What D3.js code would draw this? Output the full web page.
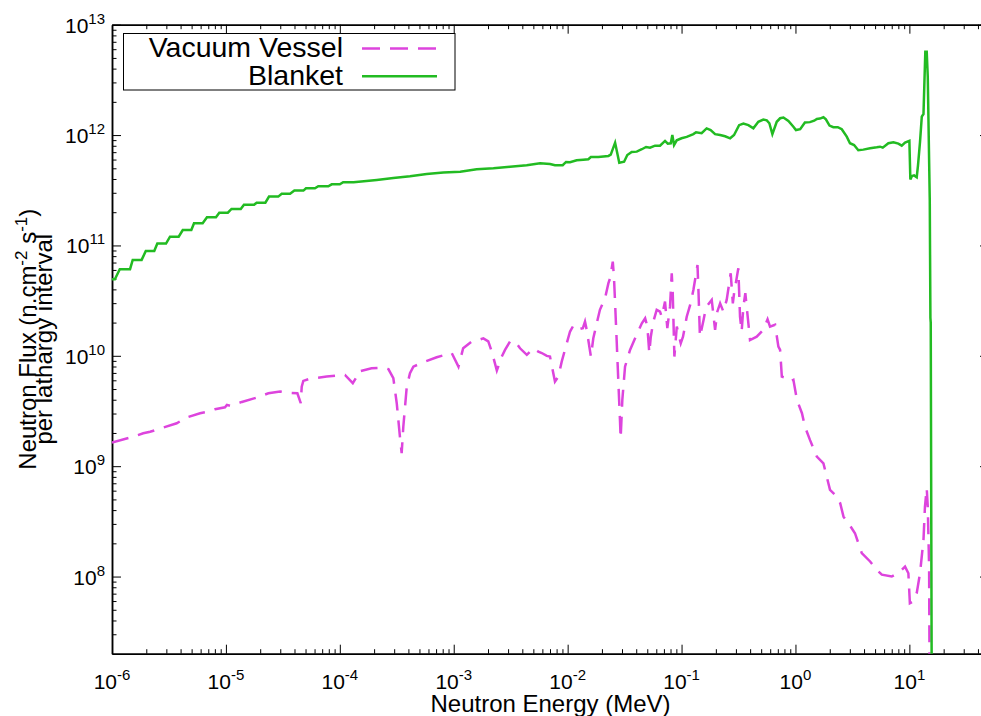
<!DOCTYPE html>
<meta charset="utf-8">
<style>
body { margin: 0; background: white; }
text { font-family: "Liberation Sans", Arial, sans-serif; fill: black; }
.axis path, .axis line { stroke: black; }
.axis path { stroke-width: 1.5; }
</style>
<script src="https://d3js.org/d3.v7.min.js"></script>
<body>
<script>
// Vacuum Vessel flux (MeV, n/cm2/s per lethargy)
const vvEnergy = [1e-6, 1.54e-6, 1.88e-6, 2.16e-6, 2.64e-6, 3.70e-6, 4.53e-6, 5.93e-6, 6.78e-6, 8.02e-6,
  9.82e-6, 1.02e-5, 1.09e-5, 1.38e-5, 1.86e-5, 2.36e-5, 2.99e-5, 3.42e-5, 4.24e-5, 4.54e-5,
  4.63e-5, 4.78e-5, 5.47e-5, 7.67e-5, 1.11e-4, 1.30e-4, 1.41e-4, 1.45e-4, 1.90e-4, 2.41e-4,
  2.67e-4, 2.95e-4, 3.16e-4, 3.37e-4, 3.49e-4, 3.61e-4, 3.87e-4, 4.13e-4, 4.42e-4, 5.41e-4,
  7.09e-4, 9.60e-4, 1.10e-3, 1.21e-3, 1.44e-3, 1.64e-3, 1.82e-3, 2.01e-3, 2.16e-3, 2.39e-3,
  2.64e-3, 2.82e-3, 3.12e-3, 3.45e-3, 3.82e-3, 4.38e-3, 5.00e-3, 5.53e-3, 5.93e-3, 6.56e-3,
  7.00e-3, 7.74e-3, 8.28e-3, 8.87e-3, 9.82e-3, 1.05e-2, 1.12e-2, 1.20e-2, 1.36e-2, 1.42e-2,
  1.47e-2, 1.60e-2, 1.68e-2, 1.80e-2, 1.92e-2, 2.13e-2, 2.28e-2, 2.36e-2, 2.49e-2, 2.55e-2,
  2.61e-2, 2.70e-2, 2.79e-2, 2.88e-2, 2.92e-2, 3.02e-2, 3.19e-2, 3.53e-2, 3.91e-2, 4.48e-2,
  4.79e-2, 5.01e-2, 5.21e-2, 5.37e-2, 5.65e-2, 6.05e-2, 6.47e-2, 6.70e-2, 7.16e-2, 7.50e-2,
  7.92e-2, 8.20e-2, 8.37e-2, 8.65e-2, 9.08e-2, 9.84e-2, 1.03e-1, 1.11e-1, 1.19e-1, 1.27e-1,
  1.38e-1, 1.41e-1, 1.45e-1, 1.56e-1, 1.64e-1, 1.84e-1, 1.97e-1, 2.06e-1, 2.18e-1, 2.33e-1,
  2.49e-1, 2.70e-1, 2.82e-1, 2.89e-1, 3.01e-1, 3.15e-1, 3.26e-1, 3.37e-1, 3.49e-1, 3.63e-1,
  3.86e-1, 3.99e-1, 4.57e-1, 5.22e-1, 5.69e-1, 5.98e-1, 6.62e-1, 7.08e-1, 7.33e-1, 7.59e-1,
  8.39e-1, 8.97e-1, 9.59e-1, 1.03, 1.14, 1.21, 1.34, 1.54, 1.76, 1.88,
  2.01, 2.31, 2.47, 2.64, 2.91, 3.33, 3.82, 4.52, 5.18, 5.73,
  7.00, 8.28, 9.16, 9.80, 10.1, 10.8, 11.6, 12.4, 13.3, 13.7,
  14.2, 14.5, 14.9, 15.2];
const vvFlux = [1.64e9, 1.85e9, 1.99e9, 2.05e9, 2.19e9, 2.45e9, 2.76e9, 3.02e9, 3.10e9, 3.28e9,
  3.42e9, 3.59e9, 3.52e9, 3.82e9, 4.18e9, 4.58e9, 4.74e9, 4.64e9, 4.58e9, 3.72e9,
  5.26e9, 5.93e9, 6.21e9, 6.48e9, 6.71e9, 5.65e9, 6.48e9, 7.19e9, 7.72e9, 7.82e9,
  7.57e9, 6.27e9, 3.72e9, 1.85e9, 1.31e9, 2.29e9, 5.26e9, 6.95e9, 7.98e9, 8.75e9,
  9.71e9, 1.06e10, 7.98e9, 1.17e10, 1.35e10, 1.39e10, 1.44e10, 1.35e10, 1.09e10, 7.35e9,
  9.84e9, 1.13e10, 1.35e10, 1.35e10, 1.17e10, 1.02e10, 1.17e10, 1.09e10, 1.06e10, 9.98e9,
  9.84e9, 5.84e9, 6.48e9, 8.85e9, 1.30e10, 1.66e10, 1.87e10, 1.72e10, 1.78e10, 2.04e10,
  1.72e10, 9.84e9, 1.44e10, 1.97e10, 2.61e10, 3.33e10, 4.55e10, 5.05e10, 7.13e10, 5.21e10,
  2.99e10, 1.30e10, 5.65e9, 2.62e9, 1.79e9, 3.98e9, 7.98e9, 1.13e10, 1.44e10, 1.97e10,
  2.19e10, 1.84e10, 1.06e10, 1.49e10, 2.04e10, 2.61e10, 2.51e10, 2.26e10, 3.10e10, 1.78e10,
  2.79e10, 5.60e10, 3.69e10, 9.84e9, 1.84e10, 1.30e10, 1.49e10, 2.26e10, 2.89e10, 3.95e10,
  6.65e10, 3.69e10, 1.49e10, 2.11e10, 2.75e10, 3.21e10, 1.72e10, 2.51e10, 2.99e10, 2.51e10,
  3.21e10, 5.60e10, 2.99e10, 3.69e10, 4.70e10, 6.21e10, 2.26e10, 1.66e10, 2.79e10, 3.69e10,
  1.97e10, 1.39e10, 1.49e10, 1.72e10, 2.14e10, 1.84e10, 1.91e10, 1.21e10, 1.13e10, 6.48e9,
  6.27e9, 5.84e9, 6.05e9, 3.99e9, 3.02e9, 2.29e9, 1.73e9, 1.22e9, 1.06e9, 8.05e8,
  6.10e8, 5.31e8, 4.62e8, 3.49e8, 3.05e8, 2.47e8, 1.63e8, 1.37e8, 1.15e8, 1.04e8,
  1.00e8, 1.11e8, 1.23e8, 1.07e8, 5.74e7, 5.94e7, 7.08e7, 1.07e8, 2.15e8, 4.30e8,
  6.32e8, 4.30e8, 1.23e8, 1e6];

// Blanket flux
const blEnergy = [1e-6, 1.06e-6, 1.17e-6, 1.44e-6, 1.52e-6, 1.82e-6, 1.98e-6, 2.35e-6, 2.50e-6, 2.98e-6,
  3.23e-6, 3.85e-6, 4.18e-6, 4.97e-6, 5.25e-6, 6.25e-6, 6.82e-6, 8.18e-6, 8.75e-6, 1.04e-5,
  1.12e-5, 1.35e-5, 1.44e-5, 1.77e-5, 1.86e-5, 2.22e-5, 2.39e-5, 2.88e-5, 3.09e-5, 3.66e-5,
  3.99e-5, 4.79e-5, 5.05e-5, 6.05e-5, 6.47e-5, 7.92e-5, 8.49e-5, 1.00e-4, 1.07e-4, 1.32e-4,
  2.11e-4, 2.95e-4, 4.13e-4, 5.79e-4, 8.11e-4, 1.14e-3, 1.59e-3, 2.23e-3, 3.12e-3, 4.37e-3,
  5.73e-3, 7.0e-3, 7.74e-3, 9.05e-3, 9.68e-3, 1.05e-2, 1.20e-2, 1.37e-2, 1.52e-2, 1.60e-2,
  1.86e-2, 2.28e-2, 2.39e-2, 2.61e-2, 2.84e-2, 3.13e-2, 3.34e-2, 3.65e-2, 4.04e-2, 4.48e-2,
  4.88e-2, 5.29e-2, 5.85e-2, 6.47e-2, 7.16e-2, 7.57e-2, 8.04e-2, 8.30e-2, 8.59e-2, 9.07e-2,
  1.00e-1, 1.11e-1, 1.27e-1, 1.34e-1, 1.50e-1, 1.66e-1, 1.80e-1, 1.97e-1, 2.18e-1, 2.41e-1,
  2.67e-1, 2.89e-1, 3.20e-1, 3.49e-1, 3.86e-1, 4.27e-1, 4.72e-1, 5.22e-1, 5.60e-1, 5.90e-1,
  6.27e-1, 6.85e-1, 7.33e-1, 7.84e-1, 8.67e-1, 9.59e-1, 1.01, 1.10, 1.21, 1.34,
  1.46, 1.54, 1.64, 1.76, 1.85, 1.99, 2.15, 2.35, 2.55, 2.82,
  3.01, 3.27, 3.56, 3.94, 4.52, 5.17, 5.53, 5.84, 6.54, 7.24,
  8.00, 8.57, 9.16, 10.0, 10.2, 10.55, 11.0, 11.6, 11.9, 12.4,
  12.85, 13.3, 13.8, 14.2, 14.5, 15.1, 15.3, 15.4, 15.8];
const blFlux = [4.94e10, 4.94e10, 6.1e10, 6.1e10, 7.4e10, 7.4e10, 8.9e10, 8.9e10, 1.04e11, 1.04e11,
  1.20e11, 1.20e11, 1.38e11, 1.38e11, 1.59e11, 1.59e11, 1.80e11, 1.80e11, 1.98e11, 1.98e11,
  2.14e11, 2.14e11, 2.34e11, 2.34e11, 2.44e11, 2.44e11, 2.77e11, 2.77e11, 2.94e11, 2.94e11,
  3.14e11, 3.14e11, 3.30e11, 3.30e11, 3.44e11, 3.44e11, 3.58e11, 3.58e11, 3.74e11, 3.74e11,
  3.92e11, 4.08e11, 4.23e11, 4.44e11, 4.57e11, 4.66e11, 4.90e11, 5.0e11, 5.17e11, 5.32e11,
  5.55e11, 5.47e11, 5.33e11, 5.33e11, 5.71e11, 5.67e11, 5.91e11, 5.99e11, 6.04e11, 6.33e11,
  6.33e11, 6.47e11, 6.64e11, 8.53e11, 5.62e11, 5.74e11, 6.6e11, 7.03e11, 7.08e11, 7.44e11,
  7.80e11, 7.69e11, 8.02e11, 8.02e11, 8.85e11, 8.36e11, 8.43e11, 1.00e12, 8.13e11, 8.97e11,
  9.36e11, 9.62e11, 1.02e12, 1.06e12, 1.04e12, 1.15e12, 1.11e12, 1.02e12, 1.00e12, 9.75e11,
  9.35e11, 1.0e12, 1.23e12, 1.27e12, 1.23e12, 1.15e12, 1.32e12, 1.38e12, 1.36e12, 1.28e12,
  1.02e12, 1.32e12, 1.42e12, 1.44e12, 1.34e12, 1.19e12, 1.11e12, 1.13e12, 1.30e12, 1.31e12,
  1.35e12, 1.40e12, 1.41e12, 1.45e12, 1.39e12, 1.22e12, 1.18e12, 1.18e12, 1.13e12, 9.68e11,
  8.43e11, 8.13e11, 7.28e11, 7.38e11, 7.6e11, 7.75e11, 7.85e11, 7.69e11, 8.43e11, 8.61e11,
  8.36e11, 8.02e11, 8.53e11, 8.85e11, 3.96e11, 4.26e11, 4.31e11, 4.15e11, 5.3e11, 8.66e11,
  1.47e12, 1.55e12, 5.7e12, 5.7e12, 3.38e12, 2.58e11, 2.2e10, 2.0e10, 1e6];

const xMajor = [1e-6, 1e-5, 1e-4, 1e-3, 1e-2, 1e-1, 1, 10];
const yMajor = [1e8, 1e9, 1e10, 1e11, 1e12, 1e13];
const seriesNames = ['Vacuum Vessel', 'Blanket'];
const seriesColors = ['#dd44dd', '#22bb22'];

const margin = { top: 24.7, left: 112 };
const width = 877;
const height = 629;

const svg = d3.select('body')
  .append('svg')
    .attr('width', 981)
    .attr('height', 716);

const g = svg.append('g')
    .attr('transform', `translate(${margin.left}, ${margin.top})`);

const xScale = d3.scaleLog().domain([1e-6, 50]).range([0, width]);
const yScale = d3.scaleLog().domain([2e7, 1e13]).range([height, 0]);

// minor ticks 2..9 x 10^n
function minors(lo, hi, scale) {
  const out = [];
  const d = scale.domain();
  for (let n = lo; n <= hi; n++) {
    for (let k = 2; k <= 9; k++) {
      const v = k * Math.pow(10, n);
      if (v > d[0] * 1.0001 && v < d[1] * 0.9999) out.push(v);
    }
  }
  return out;
}
const xMinor = minors(-6, 1, xScale);
const yMinor = minors(7, 12, yScale);

function axisPair(axisFn, scale, major, minor, transform) {
  g.append('g').attr('class', 'axis').attr('transform', transform)
    .call(axisFn(scale).tickValues(major).tickSize(-9).tickSizeOuter(0).tickFormat(''));
  g.append('g').attr('class', 'axis').attr('transform', transform)
    .call(axisFn(scale).tickValues(minor).tickSize(-4.5).tickSizeOuter(0).tickFormat(''));
}
axisPair(d3.axisBottom, xScale, xMajor, xMinor, `translate(0, ${height})`);
axisPair(d3.axisTop, xScale, xMajor, xMinor, 'translate(0, 0)');
axisPair(d3.axisLeft, yScale, yMajor, yMinor, 'translate(0, 0)');
axisPair(d3.axisRight, yScale, yMajor, yMinor, `translate(${width}, 0)`);

// tick labels 10^n
const xLab = g.selectAll('.xlab').data(xMajor).enter().append('text')
    .attr('class', 'xlab')
    .attr('x', d => xScale(d))
    .attr('y', height + 35)
    .attr('text-anchor', 'middle')
    .style('font-size', '21px');
xLab.append('tspan').text('10');
xLab.append('tspan').attr('dy', -9).style('font-size', '15px').text(d => Math.round(Math.log10(d)));

const yLab = g.selectAll('.ylab').data(yMajor).enter().append('text')
    .attr('class', 'ylab')
    .attr('x', -7)
    .attr('y', d => yScale(d) + 8)
    .attr('text-anchor', 'end')
    .style('font-size', '21px');
yLab.append('tspan').text('10');
yLab.append('tspan').attr('dy', -9).style('font-size', '15px').text(d => Math.round(Math.log10(d)));

// axis titles
svg.append('text')
    .attr('x', margin.left + width / 2)
    .attr('y', 712)
    .attr('text-anchor', 'middle')
    .style('font-size', '24px')
    .text('Neutron Energy (MeV)');

const yt = svg.append('text')
    .attr('transform', `translate(36, ${margin.top + height / 2}) rotate(-90)`)
    .attr('text-anchor', 'middle')
    .style('font-size', '24px');
yt.append('tspan').text('Neutron Flux (n.cm');
yt.append('tspan').attr('dy', -9).style('font-size', '17px').text('-2');
yt.append('tspan').attr('dy', 9).text(' s');
yt.append('tspan').attr('dy', -9).style('font-size', '17px').text('-1');
yt.append('tspan').attr('dy', 9).text(')');

svg.append('text')
    .attr('transform', `translate(52, ${margin.top + height / 2}) rotate(-90)`)
    .attr('text-anchor', 'middle')
    .style('font-size', '24px')
    .text('per lathargy interval');

// curves
svg.append('defs').append('clipPath').attr('id', 'plotclip')
  .append('rect').attr('width', width).attr('height', height);

const line = d3.line()
  .x(d => xScale(d[0]))
  .y(d => yScale(d[1]));

const vvData = vvEnergy.map((e, i) => [e, vvFlux[i]]);
const blData = blEnergy.map((e, i) => [e, blFlux[i]]);

const plot = g.append('g').attr('clip-path', 'url(#plotclip)');
plot.append('path')
    .datum(vvData)
    .attr('d', line)
    .attr('fill', 'none')
    .attr('stroke', seriesColors[0])
    .attr('stroke-width', 2.5)
    .attr('stroke-dasharray', '17,10');
plot.append('path')
    .datum(blData)
    .attr('d', line)
    .attr('fill', 'none')
    .attr('stroke', seriesColors[1])
    .attr('stroke-width', 2.5);

// legend
const legend = svg.append('g');
legend.append('rect')
    .attr('x', 123.5).attr('y', 33.5)
    .attr('width', 331.5).attr('height', 56.5)
    .attr('fill', 'white')
    .attr('stroke', 'black')
    .attr('stroke-width', 1);
seriesNames.forEach((name, i) => {
  legend.append('text')
      .attr('x', 343)
      .attr('y', 57 + i * 28.3)
      .attr('text-anchor', 'end')
      .style('font-size', '28.5px')
      .text(name);
  legend.append('line')
      .attr('x1', 362).attr('x2', 437)
      .attr('y1', 48.5 + i * 27.7).attr('y2', 48.5 + i * 27.7)
      .attr('stroke', seriesColors[i])
      .attr('stroke-width', 2.5)
      .attr('stroke-dasharray', i === 0 ? '18,10' : null);
});
</script>
</body>
</html>
